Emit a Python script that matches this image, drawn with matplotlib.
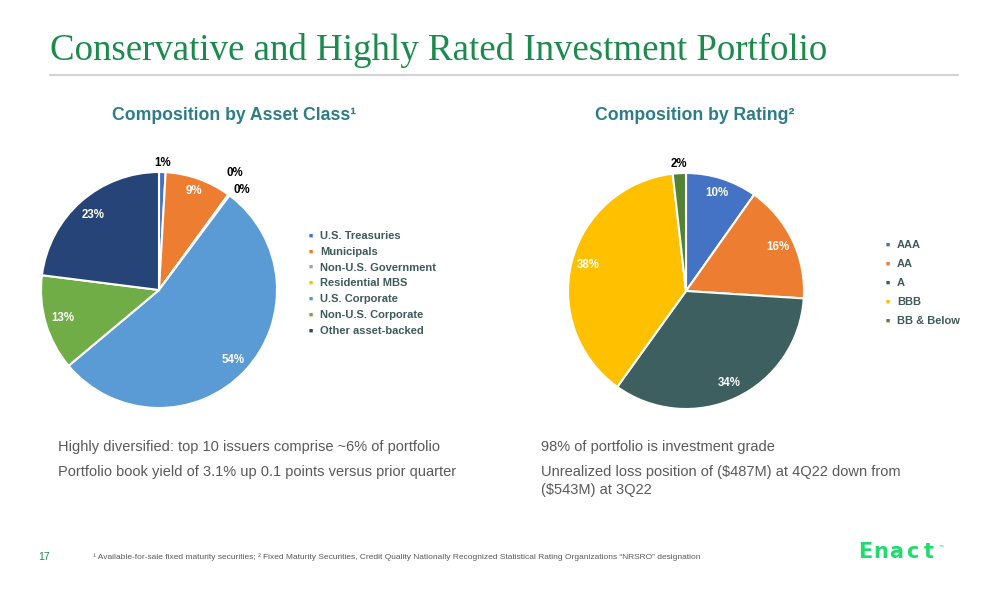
import numpy as np
import matplotlib
matplotlib.use("Agg")
import matplotlib.pyplot as plt

plt.rcParams['font.family'] = ['Liberation Sans', 'DejaVu Sans']

# ---- data ----
asset_classes = ["U.S. Treasuries", "Municipals", "Non-U.S. Government", "Residential MBS",
                 "U.S. Corporate", "Non-U.S. Corporate", "Other asset-backed"]
asset_values = [0.9, 9.1, 0.1, 0.1, 53.7, 13.1, 23.0]
asset_colors = ["#4472C4", "#ED7D31", "#A5A5A5", "#FFC000", "#5B9BD5", "#70AD47", "#264478"]

ratings = ["AAA", "AA", "A", "BBB", "BB & Below"]
rating_values = [9.8, 16.2, 33.9, 38.3, 1.8]
rating_colors = ["#4472C4", "#ED7D31", "#3D5F5F", "#FFC000", "#548235"]

W, H = 1008, 612
fig = plt.figure(figsize=(W / 100, H / 100), dpi=100)
fig.patch.set_facecolor("white")


def px(x, y):
    return x / W, 1 - y / H


def pie_axes(cx, cy, r):
    return fig.add_axes([(cx - r) / W, 1 - (cy + r) / H, 2 * r / W, 2 * r / H])


def draw_pie(ax, values, colors, dists, inside, nudges):
    wedges, _ = ax.pie(values, colors=colors, startangle=90, counterclock=False,
                       wedgeprops=dict(edgecolor="white", linewidth=1.5))
    ax.set_xlim(-1, 1)
    ax.set_ylim(-1, 1)
    ax.set_aspect("equal")
    ax.axis("off")
    for w, v, d, ins, nd in zip(wedges, values, dists, inside, nudges):
        ang = np.deg2rad((w.theta1 + w.theta2) / 2 + nd)
        ax.text(d * np.cos(ang), d * np.sin(ang), f"{v:.0f}%", ha="center", va="center",
                fontsize=8.3, fontweight="bold", color="white" if ins else "black",
                clip_on=False)


# left pie
axL = pie_axes(159, 290, 118)
draw_pie(axL, asset_values, asset_colors,
         dists=[1.08, 0.89, 1.18, 1.1, 0.86, 0.85, 0.85],
         inside=[False, True, False, False, True, True, True],
         nudges=[0, 0, 3, -3, 0, 0, 0])

# right pie
axR = pie_axes(686, 291, 118)
draw_pie(axR, rating_values, rating_colors,
         dists=[0.87, 0.86, 0.86, 0.86, 1.08],
         inside=[True, True, True, True, False],
         nudges=[0, 0, 0, 0, 0])

# legends
legend_color = "#3E5A5A"
for i, (name, col) in enumerate(zip(asset_classes, asset_colors)):
    y = 236 + i * 15.8
    fig.text(*px(311, y), "\u25A0", color=col, fontsize=5, ha="center", va="center")
    fig.text(*px(320, y), name, color=legend_color, fontsize=8, fontweight="bold", va="center")
for i, (name, col) in enumerate(zip(ratings, rating_colors)):
    y = 245 + i * 19
    fig.text(*px(888, y), "\u25A0", color=col, fontsize=5, ha="center", va="center")
    fig.text(*px(897, y), name, color=legend_color, fontsize=8, fontweight="bold", va="center")

# title
fig.text(*px(50, 50), "Conservative and Highly Rated Investment Portfolio",
         family=["Liberation Serif"], fontsize=26.6, color="#1B8A4C", va="center")
fig.add_artist(plt.Line2D([50 / W, 958 / W], [1 - 75 / H, 1 - 75 / H],
                          color="#D3D3D3", linewidth=1.5))

# chart headers
hdr = "#2E7D86"
fig.text(*px(234, 116), "Composition by Asset Class\u00B9", color=hdr, fontsize=12.7,
         fontweight="bold", ha="center", va="center")
fig.text(*px(695, 116), "Composition by Rating\u00B2", color=hdr, fontsize=12.7,
         fontweight="bold", ha="center", va="center")

# body text
body = "#595959"
bfs = 10.5
fig.text(*px(58, 447), "Highly diversified: top 10 issuers comprise ~6% of portfolio",
         color=body, fontsize=bfs, va="center")
fig.text(*px(58, 472), "Portfolio book yield of 3.1% up 0.1 points versus prior quarter",
         color=body, fontsize=bfs, va="center")
fig.text(*px(541, 447), "98% of portfolio is investment grade",
         color=body, fontsize=bfs, va="center")
fig.text(*px(541, 472), "Unrealized loss position of ($487M) at 4Q22 down from",
         color=body, fontsize=bfs, va="center")
fig.text(*px(541, 490), "($543M) at 3Q22", color=body, fontsize=bfs, va="center")

# footer
fig.text(*px(38, 557), "17", color="#1B8A4C", fontsize=7.5, va="center")
fig.text(*px(93, 557),
         "\u00B9 Available-for-sale fixed maturity securities; \u00B2 Fixed Maturity Securities, "
         "Credit Quality Nationally Recognized Statistical Rating Organizations \u201CNRSRO\u201D designation",
         color=body, fontsize=6.0, va="center")
logo_green = "#1EDC6E"
for ch, xc in zip("Enact", [865, 880.5, 896.5, 912.5, 928.5]):
    fig.text(*px(xc, 552), ch, color=logo_green, fontsize=15, fontweight="bold",
             family=["DejaVu Sans"], ha="center", va="center")
fig.text(*px(941, 546), "\u2122", color=logo_green, fontsize=3.5, va="center", ha="center")

fig.savefig("out.png", dpi=100, facecolor="white")
